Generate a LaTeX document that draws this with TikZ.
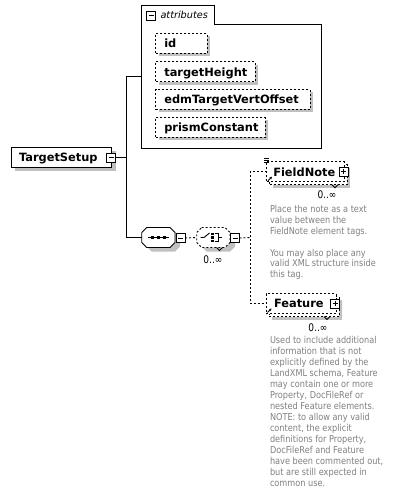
\documentclass[tikz,border=0pt]{standalone}
\usepackage{fontspec}
\setmainfont{DejaVu Sans}
\newfontfamily\descfont[FakeStretch=0.86]{DejaVu Sans}
\usetikzlibrary{shadows,arrows.meta}
\definecolor{shd}{RGB}{192,192,192}
\definecolor{txtgrey}{RGB}{128,128,128}
\begin{document}
\begin{tikzpicture}[x=1pt,y=-1pt,
  every node/.style={inner sep=0pt, outer sep=0pt},
  ln/.style={line width=0.9pt},
  dsh/.style={line width=0.9pt, dash pattern=on 2pt off 2pt},
  pm/.style={draw, line width=0.8pt, fill=white, minimum size=9pt},
  shadowed/.style={drop shadow={shadow xshift=4pt, shadow yshift=-4pt, fill=shd, opacity=1}},
  shadowsm/.style={drop shadow={shadow xshift=3pt, shadow yshift=-3pt, fill=shd, opacity=1}},
  ename/.style={font=\fontsize{11.4}{13}\selectfont\bfseries, anchor=base west},
  ebox/.style={draw, ln, fill=white, minimum height=20pt, anchor=north west},
  abox/.style={draw, dsh, fill=white, minimum height=20pt, anchor=north west, shadowsm},
  dbox/.style={draw, dsh, fill=white, minimum height=20pt, anchor=north west},
  desc/.style={font=\descfont\fontsize{9.5}{10.95}\selectfont, text=txtgrey, align=left, anchor=north west},
  card/.style={font=\descfont\fontsize{10.5}{11}\selectfont}
]
\useasboundingbox (0,0) rectangle (400,495);

% ---------- attributes panel ----------
\node[minimum width=180pt, minimum height=143pt, anchor=north west] (attrs) at (141.7,5.3) {};
\draw[ln, fill=white] (attrs.north west) -- (214.3,5.3) -- (214.3,24.3) -- (attrs.east |- 0,24.3) -- (attrs.south east) -- (attrs.south west) -- cycle;
\node[pm] (am) at (151.3,15.5) {};
\draw[line width=0.8pt] ([xshift=2pt]am.west) -- ([xshift=-2pt]am.east);
\node[anchor=base west, font=\fontsize{9.7}{11}\selectfont\itshape] (attrt) at (160.5,19) {attributes};

\node[abox, minimum width=51.3pt]  (aid) at (155.7,33.3) {};
\node[ename] (aidt) at (164.3,47.7) {id};
\node[abox, minimum width=99.3pt]  (ath) at (155.7,61.7) {};
\node[ename] (atht) at (164.3,76.1) {targetHeight};
\node[abox, minimum width=154.3pt] (aed) at (155.7,89.3) {};
\node[ename] (aedt) at (164.3,103.7) {edmTargetVertOffset};
\node[abox, minimum width=109.3pt] (apc) at (155.7,117.3) {};
\node[ename] (apct) at (164.3,131.7) {prismConstant};

% ---------- TargetSetup ----------
\node[ebox, minimum width=100.7pt, shadowed] (ts) at (11,147.3) {};
\node[ename] (tst) at (19,161.7) {TargetSetup};
\node[pm] (tsm) at (111,157.5) {};
\draw[line width=0.8pt] ([xshift=2pt]tsm.west) -- ([xshift=-2pt]tsm.east);
\coordinate (j) at (126.7,157.5);

% ---------- sequence ----------
\node[minimum width=33.3pt, minimum height=20pt] (seq) at (158.3,237.5) {};
\fill[shd] (151.7,231.5) -- (175,231.5) -- (180,236.5) -- (180,246.5) -- (175,251.5) -- (151.7,251.5) -- (146.7,246.5) -- (146.7,236.5) -- cycle;
\draw[ln, fill=white] (146.7,227.5) -- (170,227.5) -- (175,232.5) -- (175,242.5) -- (170,247.5) -- (146.7,247.5) -- (141.7,242.5) -- (141.7,232.5) -- cycle;
\draw[line width=0.9pt] (147.5,237.5) -- (169,237.5);
\fill (150.8,236.2) rectangle +(2.8,2.6);
\fill (156.9,236.2) rectangle +(2.8,2.6);
\fill (163,236.2) rectangle +(2.8,2.6);
\node[pm] (seqm) at (180.7,238) {};
\draw[line width=0.8pt] ([xshift=2pt]seqm.west) -- ([xshift=-2pt]seqm.east);

% ---------- choice ----------
\node[minimum width=33.3pt, minimum height=20pt] (cho) at (213.3,237.5) {};
\fill[shd] (206.7,231.5) -- (230,231.5) -- (235,236.5) -- (235,246.5) -- (230,251.5) -- (206.7,251.5) -- (201.7,246.5) -- (201.7,236.5) -- cycle;
\draw[dsh, fill=white] (201.7,227.5) -- (225,227.5) -- (230,232.5) -- (230,242.5) -- (225,247.5) -- (201.7,247.5) -- (196.7,242.5) -- (196.7,232.5) -- cycle;
\draw[line width=0.9pt] (200.5,237.5) -- (204,237.5) -- (209.5,233);
\fill (211.3,232.6) rectangle +(2.2,2.2);
\fill (211.3,236.4) rectangle +(2.2,2.2);
\fill (211.3,240.2) rectangle +(2.2,2.2);
\draw[line width=0.9pt] (214.5,233.7) -- (218,233.7) -- (218,241.3) -- (214.5,241.3) (218,237.5) -- (221.5,237.5);
\draw[line width=0.8pt] (216.5,247.5) -- (219.5,250.5) -- (222.5,247.5);
\node[pm] (chom) at (235,238) {};
\draw[line width=0.8pt] ([xshift=2pt]chom.west) -- ([xshift=-2pt]chom.east);
\node[card] (choc) at (213,260) {0..∞};
\coordinate (v) at (250,237.5);

% ---------- FieldNote ----------
\node[dbox, minimum width=77.3pt, shadowsm] (fnb) at (269.7,164.7) {};
\node[dbox, minimum width=77.3pt] (fn) at (266.7,161.7) {};
\node[ename] (fnt) at (273.3,176.1) {FieldNote};
\node[pm] (fnp) at (343.5,171.7) {};
\draw[line width=0.8pt] ([xshift=2pt]fnp.west) -- ([xshift=-2pt]fnp.east) ([yshift=2pt]fnp.south) -- ([yshift=-2pt]fnp.north);
\draw[line width=0.8pt] (264,158.3) -- (268.5,158.3) (264,160.3) -- (268.5,160.3) (264,162.3) -- (268.5,162.3);
\draw[line width=0.8pt, -{Stealth[length=2.6pt,width=2.6pt]}] (268,180.7) -- (272,176.7);
\draw[line width=0.8pt] (332,184.7) -- (335,187.7) -- (338,184.7);
\node[card] (fnc) at (327,195) {0..∞};
\node[desc] (fnd) at (270,205) {Place the note as a text\\value between the\\FieldNote element tags.\\[10.95pt]You may also place any\\valid XML structure inside\\this tag.};

% ---------- Feature ----------
\node[dbox, minimum width=70pt, shadowsm] (feb) at (269,296.5) {};
\node[dbox, minimum width=70pt] (fe) at (266,293.5) {};
\node[ename] (fet) at (274,307.9) {Feature};
\node[pm] (fep) at (335,303.5) {};
\draw[line width=0.8pt] ([xshift=2pt]fep.west) -- ([xshift=-2pt]fep.east) ([yshift=2pt]fep.south) -- ([yshift=-2pt]fep.north);
\draw[line width=0.8pt, -{Stealth[length=2.6pt,width=2.6pt]}] (267.5,312.5) -- (271.5,308.5);
\draw[line width=0.8pt] (324,316.5) -- (327,319.5) -- (330,316.5);
\node[card] (fec) at (318,327.3) {0..∞};
\node[desc] (fed) at (270,336.6) {Used to include additional\\information that is not\\explicitly defined by the\\LandXML schema, Feature\\may contain one or more\\Property, DocFileRef or\\nested Feature elements.\\NOTE: to allow any valid\\content, the explicit\\definitions for Property,\\DocFileRef and Feature\\have been commented out,\\but are still expected in\\common use.};

% ---------- connectors ----------
\draw[ln] (tsm.east) -- (j);
\draw[ln] (j) |- (attrs.west);
\draw[ln] (j) |- (seq.west);
\draw[dsh] (seqm.east) -- (cho.west);
\draw[dsh] (chom.east) -- (v);
\draw[dsh] (fn.west) -| (v) |- (fe.west);
\end{tikzpicture}
\end{document}
